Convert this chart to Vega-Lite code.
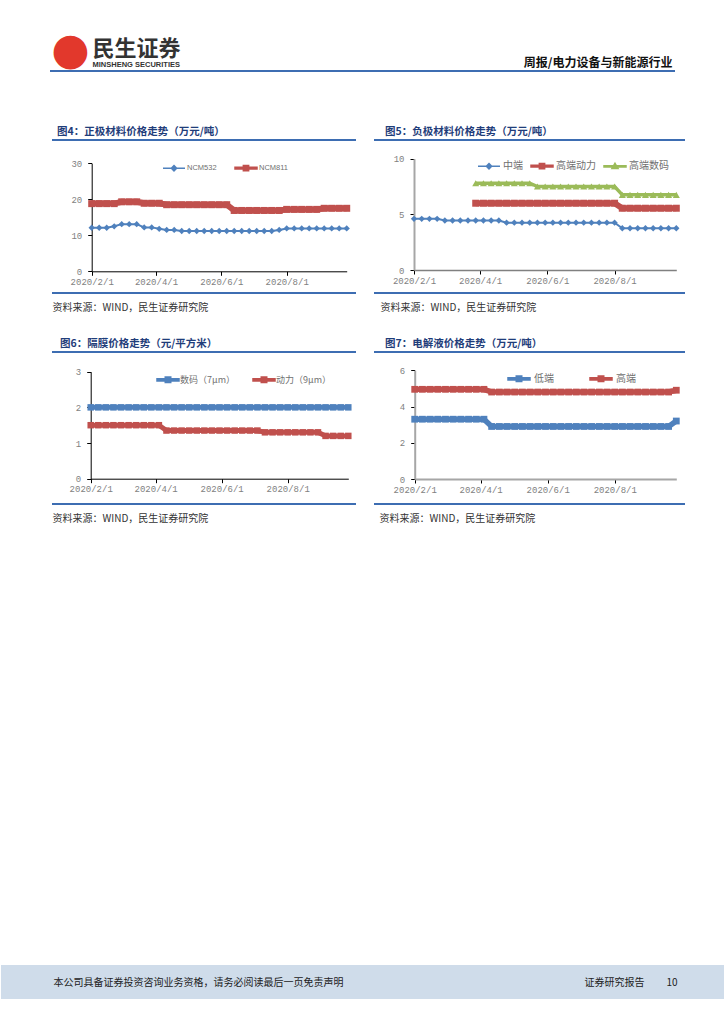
{
"$schema": "https://vega.github.io/schema/vega-lite/v6.json",
"padding": 0,
"background": "#ffffff",
"spacing": 0,
"resolve": {"scale": {"shape": "independent", "fill": "independent", "stroke": "independent"}, "legend": {"shape": "independent", "fill": "independent", "stroke": "independent"}},
"config": {
 "view": {"stroke": null},
 "axis": {"grid": false, "labelFont": "Liberation Mono", "labelFontSize": 9, "labelColor": "#7f7f7f", "tickSize": 4, "tickColor": "#000000", "domainColor": "#000000", "labelOverlap": false, "labelFlush": false, "titleFont": "Noto Sans CJK SC", "titleFontWeight": "normal", "titleFontSize": 10, "titleColor": "#333333"},
 "axisX": {"labelPadding": 2},
 "axisY": {"labelPadding": 6},
 "title": {"anchor": "start", "font": "Noto Sans CJK SC", "fontSize": 10.5, "fontWeight": "bold", "color": "#1f3d7a", "offset": 3},
 "legend": {"padding": 0}
},
"datasets": {
 "c4": [
  {"date":"2020/2/1","series":"NCM532","value":12.1},{"date":"2020/2/8","series":"NCM532","value":12.1},{"date":"2020/2/15","series":"NCM532","value":12.1},{"date":"2020/2/22","series":"NCM532","value":12.5},{"date":"2020/2/29","series":"NCM532","value":13.1},{"date":"2020/3/7","series":"NCM532","value":13.1},{"date":"2020/3/14","series":"NCM532","value":13.1},{"date":"2020/3/21","series":"NCM532","value":12.2},{"date":"2020/3/28","series":"NCM532","value":12.2},{"date":"2020/4/4","series":"NCM532","value":11.8},{"date":"2020/4/11","series":"NCM532","value":11.5},{"date":"2020/4/18","series":"NCM532","value":11.5},{"date":"2020/4/25","series":"NCM532","value":11.2},{"date":"2020/5/2","series":"NCM532","value":11.2},{"date":"2020/5/9","series":"NCM532","value":11.2},{"date":"2020/5/16","series":"NCM532","value":11.2},{"date":"2020/5/23","series":"NCM532","value":11.2},{"date":"2020/5/30","series":"NCM532","value":11.2},{"date":"2020/6/6","series":"NCM532","value":11.2},{"date":"2020/6/13","series":"NCM532","value":11.2},{"date":"2020/6/20","series":"NCM532","value":11.2},{"date":"2020/6/27","series":"NCM532","value":11.2},{"date":"2020/7/4","series":"NCM532","value":11.2},{"date":"2020/7/11","series":"NCM532","value":11.2},{"date":"2020/7/18","series":"NCM532","value":11.2},{"date":"2020/7/25","series":"NCM532","value":11.5},{"date":"2020/8/1","series":"NCM532","value":11.9},{"date":"2020/8/8","series":"NCM532","value":11.9},{"date":"2020/8/15","series":"NCM532","value":11.9},{"date":"2020/8/22","series":"NCM532","value":11.9},{"date":"2020/8/29","series":"NCM532","value":11.9},{"date":"2020/9/5","series":"NCM532","value":11.9},{"date":"2020/9/12","series":"NCM532","value":11.9},{"date":"2020/9/19","series":"NCM532","value":11.9},{"date":"2020/9/26","series":"NCM532","value":11.9},
  {"date":"2020/2/1","series":"NCM811","value":18.8},{"date":"2020/2/8","series":"NCM811","value":18.8},{"date":"2020/2/15","series":"NCM811","value":18.8},{"date":"2020/2/22","series":"NCM811","value":18.8},{"date":"2020/2/29","series":"NCM811","value":19.3},{"date":"2020/3/7","series":"NCM811","value":19.3},{"date":"2020/3/14","series":"NCM811","value":19.3},{"date":"2020/3/21","series":"NCM811","value":18.9},{"date":"2020/3/28","series":"NCM811","value":18.9},{"date":"2020/4/4","series":"NCM811","value":18.9},{"date":"2020/4/11","series":"NCM811","value":18.5},{"date":"2020/4/18","series":"NCM811","value":18.5},{"date":"2020/4/25","series":"NCM811","value":18.5},{"date":"2020/5/2","series":"NCM811","value":18.5},{"date":"2020/5/9","series":"NCM811","value":18.5},{"date":"2020/5/16","series":"NCM811","value":18.5},{"date":"2020/5/23","series":"NCM811","value":18.5},{"date":"2020/5/30","series":"NCM811","value":18.5},{"date":"2020/6/6","series":"NCM811","value":18.5},{"date":"2020/6/13","series":"NCM811","value":16.9},{"date":"2020/6/20","series":"NCM811","value":16.9},{"date":"2020/6/27","series":"NCM811","value":16.9},{"date":"2020/7/4","series":"NCM811","value":16.9},{"date":"2020/7/11","series":"NCM811","value":16.9},{"date":"2020/7/18","series":"NCM811","value":16.9},{"date":"2020/7/25","series":"NCM811","value":16.9},{"date":"2020/8/1","series":"NCM811","value":17.2},{"date":"2020/8/8","series":"NCM811","value":17.2},{"date":"2020/8/15","series":"NCM811","value":17.2},{"date":"2020/8/22","series":"NCM811","value":17.2},{"date":"2020/8/29","series":"NCM811","value":17.2},{"date":"2020/9/5","series":"NCM811","value":17.5},{"date":"2020/9/12","series":"NCM811","value":17.5},{"date":"2020/9/19","series":"NCM811","value":17.5},{"date":"2020/9/26","series":"NCM811","value":17.5}
 ],
 "c5": [
  {"date":"2020/2/1","series":"中端","value":4.6},{"date":"2020/2/8","series":"中端","value":4.6},{"date":"2020/2/15","series":"中端","value":4.6},{"date":"2020/2/22","series":"中端","value":4.6},{"date":"2020/2/29","series":"中端","value":4.45},{"date":"2020/3/7","series":"中端","value":4.45},{"date":"2020/3/14","series":"中端","value":4.45},{"date":"2020/3/21","series":"中端","value":4.45},{"date":"2020/3/28","series":"中端","value":4.45},{"date":"2020/4/4","series":"中端","value":4.45},{"date":"2020/4/11","series":"中端","value":4.45},{"date":"2020/4/18","series":"中端","value":4.45},{"date":"2020/4/25","series":"中端","value":4.25},{"date":"2020/5/2","series":"中端","value":4.25},{"date":"2020/5/9","series":"中端","value":4.25},{"date":"2020/5/16","series":"中端","value":4.25},{"date":"2020/5/23","series":"中端","value":4.25},{"date":"2020/5/30","series":"中端","value":4.25},{"date":"2020/6/6","series":"中端","value":4.25},{"date":"2020/6/13","series":"中端","value":4.25},{"date":"2020/6/20","series":"中端","value":4.25},{"date":"2020/6/27","series":"中端","value":4.25},{"date":"2020/7/4","series":"中端","value":4.25},{"date":"2020/7/11","series":"中端","value":4.25},{"date":"2020/7/18","series":"中端","value":4.25},{"date":"2020/7/25","series":"中端","value":4.25},{"date":"2020/8/1","series":"中端","value":4.25},{"date":"2020/8/8","series":"中端","value":3.75},{"date":"2020/8/15","series":"中端","value":3.75},{"date":"2020/8/22","series":"中端","value":3.75},{"date":"2020/8/29","series":"中端","value":3.75},{"date":"2020/9/5","series":"中端","value":3.75},{"date":"2020/9/12","series":"中端","value":3.75},{"date":"2020/9/19","series":"中端","value":3.75},{"date":"2020/9/26","series":"中端","value":3.75},
  {"date":"2020/3/28","series":"高端动力","value":6.0},{"date":"2020/4/4","series":"高端动力","value":6.0},{"date":"2020/4/11","series":"高端动力","value":6.0},{"date":"2020/4/18","series":"高端动力","value":6.0},{"date":"2020/4/25","series":"高端动力","value":6.0},{"date":"2020/5/2","series":"高端动力","value":6.0},{"date":"2020/5/9","series":"高端动力","value":6.0},{"date":"2020/5/16","series":"高端动力","value":6.0},{"date":"2020/5/23","series":"高端动力","value":6.0},{"date":"2020/5/30","series":"高端动力","value":6.0},{"date":"2020/6/6","series":"高端动力","value":6.0},{"date":"2020/6/13","series":"高端动力","value":6.0},{"date":"2020/6/20","series":"高端动力","value":6.0},{"date":"2020/6/27","series":"高端动力","value":6.0},{"date":"2020/7/4","series":"高端动力","value":6.0},{"date":"2020/7/11","series":"高端动力","value":6.0},{"date":"2020/7/18","series":"高端动力","value":6.0},{"date":"2020/7/25","series":"高端动力","value":6.0},{"date":"2020/8/1","series":"高端动力","value":6.0},{"date":"2020/8/8","series":"高端动力","value":5.55},{"date":"2020/8/15","series":"高端动力","value":5.55},{"date":"2020/8/22","series":"高端动力","value":5.55},{"date":"2020/8/29","series":"高端动力","value":5.55},{"date":"2020/9/5","series":"高端动力","value":5.55},{"date":"2020/9/12","series":"高端动力","value":5.55},{"date":"2020/9/19","series":"高端动力","value":5.55},{"date":"2020/9/26","series":"高端动力","value":5.55},
  {"date":"2020/3/28","series":"高端数码","value":7.8},{"date":"2020/4/4","series":"高端数码","value":7.8},{"date":"2020/4/11","series":"高端数码","value":7.8},{"date":"2020/4/18","series":"高端数码","value":7.8},{"date":"2020/4/25","series":"高端数码","value":7.8},{"date":"2020/5/2","series":"高端数码","value":7.8},{"date":"2020/5/9","series":"高端数码","value":7.8},{"date":"2020/5/16","series":"高端数码","value":7.8},{"date":"2020/5/23","series":"高端数码","value":7.5},{"date":"2020/5/30","series":"高端数码","value":7.5},{"date":"2020/6/6","series":"高端数码","value":7.5},{"date":"2020/6/13","series":"高端数码","value":7.5},{"date":"2020/6/20","series":"高端数码","value":7.5},{"date":"2020/6/27","series":"高端数码","value":7.5},{"date":"2020/7/4","series":"高端数码","value":7.5},{"date":"2020/7/11","series":"高端数码","value":7.5},{"date":"2020/7/18","series":"高端数码","value":7.5},{"date":"2020/7/25","series":"高端数码","value":7.5},{"date":"2020/8/1","series":"高端数码","value":7.5},{"date":"2020/8/8","series":"高端数码","value":6.75},{"date":"2020/8/15","series":"高端数码","value":6.75},{"date":"2020/8/22","series":"高端数码","value":6.75},{"date":"2020/8/29","series":"高端数码","value":6.75},{"date":"2020/9/5","series":"高端数码","value":6.75},{"date":"2020/9/12","series":"高端数码","value":6.75},{"date":"2020/9/19","series":"高端数码","value":6.75},{"date":"2020/9/26","series":"高端数码","value":6.75}
 ],
 "c6": [
  {"date":"2020/2/1","series":"数码（7μm）","value":2.0},{"date":"2020/2/8","series":"数码（7μm）","value":2.0},{"date":"2020/2/15","series":"数码（7μm）","value":2.0},{"date":"2020/2/22","series":"数码（7μm）","value":2.0},{"date":"2020/2/29","series":"数码（7μm）","value":2.0},{"date":"2020/3/7","series":"数码（7μm）","value":2.0},{"date":"2020/3/14","series":"数码（7μm）","value":2.0},{"date":"2020/3/21","series":"数码（7μm）","value":2.0},{"date":"2020/3/28","series":"数码（7μm）","value":2.0},{"date":"2020/4/4","series":"数码（7μm）","value":2.0},{"date":"2020/4/11","series":"数码（7μm）","value":2.0},{"date":"2020/4/18","series":"数码（7μm）","value":2.0},{"date":"2020/4/25","series":"数码（7μm）","value":2.0},{"date":"2020/5/2","series":"数码（7μm）","value":2.0},{"date":"2020/5/9","series":"数码（7μm）","value":2.0},{"date":"2020/5/16","series":"数码（7μm）","value":2.0},{"date":"2020/5/23","series":"数码（7μm）","value":2.0},{"date":"2020/5/30","series":"数码（7μm）","value":2.0},{"date":"2020/6/6","series":"数码（7μm）","value":2.0},{"date":"2020/6/13","series":"数码（7μm）","value":2.0},{"date":"2020/6/20","series":"数码（7μm）","value":2.0},{"date":"2020/6/27","series":"数码（7μm）","value":2.0},{"date":"2020/7/4","series":"数码（7μm）","value":2.0},{"date":"2020/7/11","series":"数码（7μm）","value":2.0},{"date":"2020/7/18","series":"数码（7μm）","value":2.0},{"date":"2020/7/25","series":"数码（7μm）","value":2.0},{"date":"2020/8/1","series":"数码（7μm）","value":2.0},{"date":"2020/8/8","series":"数码（7μm）","value":2.0},{"date":"2020/8/15","series":"数码（7μm）","value":2.0},{"date":"2020/8/22","series":"数码（7μm）","value":2.0},{"date":"2020/8/29","series":"数码（7μm）","value":2.0},{"date":"2020/9/5","series":"数码（7μm）","value":2.0},{"date":"2020/9/12","series":"数码（7μm）","value":2.0},{"date":"2020/9/19","series":"数码（7μm）","value":2.0},{"date":"2020/9/26","series":"数码（7μm）","value":2.0},
  {"date":"2020/2/1","series":"动力（9μm）","value":1.5},{"date":"2020/2/8","series":"动力（9μm）","value":1.5},{"date":"2020/2/15","series":"动力（9μm）","value":1.5},{"date":"2020/2/22","series":"动力（9μm）","value":1.5},{"date":"2020/2/29","series":"动力（9μm）","value":1.5},{"date":"2020/3/7","series":"动力（9μm）","value":1.5},{"date":"2020/3/14","series":"动力（9μm）","value":1.5},{"date":"2020/3/21","series":"动力（9μm）","value":1.5},{"date":"2020/3/28","series":"动力（9μm）","value":1.5},{"date":"2020/4/4","series":"动力（9μm）","value":1.5},{"date":"2020/4/11","series":"动力（9μm）","value":1.35},{"date":"2020/4/18","series":"动力（9μm）","value":1.35},{"date":"2020/4/25","series":"动力（9μm）","value":1.35},{"date":"2020/5/2","series":"动力（9μm）","value":1.35},{"date":"2020/5/9","series":"动力（9μm）","value":1.35},{"date":"2020/5/16","series":"动力（9μm）","value":1.35},{"date":"2020/5/23","series":"动力（9μm）","value":1.35},{"date":"2020/5/30","series":"动力（9μm）","value":1.35},{"date":"2020/6/6","series":"动力（9μm）","value":1.35},{"date":"2020/6/13","series":"动力（9μm）","value":1.35},{"date":"2020/6/20","series":"动力（9μm）","value":1.35},{"date":"2020/6/27","series":"动力（9μm）","value":1.35},{"date":"2020/7/4","series":"动力（9μm）","value":1.35},{"date":"2020/7/11","series":"动力（9μm）","value":1.3},{"date":"2020/7/18","series":"动力（9μm）","value":1.3},{"date":"2020/7/25","series":"动力（9μm）","value":1.3},{"date":"2020/8/1","series":"动力（9μm）","value":1.3},{"date":"2020/8/8","series":"动力（9μm）","value":1.3},{"date":"2020/8/15","series":"动力（9μm）","value":1.3},{"date":"2020/8/22","series":"动力（9μm）","value":1.3},{"date":"2020/8/29","series":"动力（9μm）","value":1.3},{"date":"2020/9/5","series":"动力（9μm）","value":1.2},{"date":"2020/9/12","series":"动力（9μm）","value":1.2},{"date":"2020/9/19","series":"动力（9μm）","value":1.2},{"date":"2020/9/26","series":"动力（9μm）","value":1.2}
 ],
 "c7": [
  {"date":"2020/2/1","series":"低端","value":3.3},{"date":"2020/2/8","series":"低端","value":3.3},{"date":"2020/2/15","series":"低端","value":3.3},{"date":"2020/2/22","series":"低端","value":3.3},{"date":"2020/2/29","series":"低端","value":3.3},{"date":"2020/3/7","series":"低端","value":3.3},{"date":"2020/3/14","series":"低端","value":3.3},{"date":"2020/3/21","series":"低端","value":3.3},{"date":"2020/3/28","series":"低端","value":3.3},{"date":"2020/4/4","series":"低端","value":3.3},{"date":"2020/4/11","series":"低端","value":2.9},{"date":"2020/4/18","series":"低端","value":2.9},{"date":"2020/4/25","series":"低端","value":2.9},{"date":"2020/5/2","series":"低端","value":2.9},{"date":"2020/5/9","series":"低端","value":2.9},{"date":"2020/5/16","series":"低端","value":2.9},{"date":"2020/5/23","series":"低端","value":2.9},{"date":"2020/5/30","series":"低端","value":2.9},{"date":"2020/6/6","series":"低端","value":2.9},{"date":"2020/6/13","series":"低端","value":2.9},{"date":"2020/6/20","series":"低端","value":2.9},{"date":"2020/6/27","series":"低端","value":2.9},{"date":"2020/7/4","series":"低端","value":2.9},{"date":"2020/7/11","series":"低端","value":2.9},{"date":"2020/7/18","series":"低端","value":2.9},{"date":"2020/7/25","series":"低端","value":2.9},{"date":"2020/8/1","series":"低端","value":2.9},{"date":"2020/8/8","series":"低端","value":2.9},{"date":"2020/8/15","series":"低端","value":2.9},{"date":"2020/8/22","series":"低端","value":2.9},{"date":"2020/8/29","series":"低端","value":2.9},{"date":"2020/9/5","series":"低端","value":2.9},{"date":"2020/9/12","series":"低端","value":2.9},{"date":"2020/9/19","series":"低端","value":2.9},{"date":"2020/9/26","series":"低端","value":3.2},
  {"date":"2020/2/1","series":"高端","value":4.95},{"date":"2020/2/8","series":"高端","value":4.95},{"date":"2020/2/15","series":"高端","value":4.95},{"date":"2020/2/22","series":"高端","value":4.95},{"date":"2020/2/29","series":"高端","value":4.95},{"date":"2020/3/7","series":"高端","value":4.95},{"date":"2020/3/14","series":"高端","value":4.95},{"date":"2020/3/21","series":"高端","value":4.95},{"date":"2020/3/28","series":"高端","value":4.95},{"date":"2020/4/4","series":"高端","value":4.95},{"date":"2020/4/11","series":"高端","value":4.8},{"date":"2020/4/18","series":"高端","value":4.8},{"date":"2020/4/25","series":"高端","value":4.8},{"date":"2020/5/2","series":"高端","value":4.8},{"date":"2020/5/9","series":"高端","value":4.8},{"date":"2020/5/16","series":"高端","value":4.8},{"date":"2020/5/23","series":"高端","value":4.8},{"date":"2020/5/30","series":"高端","value":4.8},{"date":"2020/6/6","series":"高端","value":4.8},{"date":"2020/6/13","series":"高端","value":4.8},{"date":"2020/6/20","series":"高端","value":4.8},{"date":"2020/6/27","series":"高端","value":4.8},{"date":"2020/7/4","series":"高端","value":4.8},{"date":"2020/7/11","series":"高端","value":4.8},{"date":"2020/7/18","series":"高端","value":4.8},{"date":"2020/7/25","series":"高端","value":4.8},{"date":"2020/8/1","series":"高端","value":4.8},{"date":"2020/8/8","series":"高端","value":4.8},{"date":"2020/8/15","series":"高端","value":4.8},{"date":"2020/8/22","series":"高端","value":4.8},{"date":"2020/8/29","series":"高端","value":4.8},{"date":"2020/9/5","series":"高端","value":4.8},{"date":"2020/9/12","series":"高端","value":4.8},{"date":"2020/9/19","series":"高端","value":4.8},{"date":"2020/9/26","series":"高端","value":4.9}
 ]
},
"vconcat": [
 {
  "width": 724, "height": 70,
  "view": {"stroke": "#3d6db2", "strokeWidth": 2, "strokeDash": [0, 844, 625, 119]},
  "layer": [
   {"data": {"values": []}, "mark": "point",
    "encoding": {
     "x": {"field": "hx", "type": "quantitative", "scale": {"domain": [0, 1]}, "axis": {"orient": "bottom", "domain": false, "ticks": false, "labels": false, "title": "周报/电力设备与新能源行业", "titleX": 671, "titleY": -5, "titleAlign": "right", "titleBaseline": "alphabetic", "titleFont": "Noto Sans CJK SC", "titleFontSize": 12, "titleFontWeight": "bold", "titleColor": "#111111"}},
     "y": {"field": "hy", "type": "quantitative", "scale": {"domain": [0, 1]}, "axis": {"orient": "left", "domain": false, "ticks": false, "labels": false, "title": "民生证券", "titleAngle": 0, "titleX": 91, "titleY": 54, "titleAlign": "left", "titleBaseline": "alphabetic", "titleFont": "Noto Sans CJK SC", "titleFontSize": 22, "titleFontWeight": "bold", "titleColor": "#333333"}}
    }},
   {"data": {"values": []}, "mark": "point",
    "encoding": {
     "x": {"field": "hx2", "type": "quantitative", "scale": {"domain": [0, 1]}, "axis": {"orient": "top", "domain": false, "ticks": false, "labels": false, "title": "MINSHENG SECURITIES", "titleX": 91, "titleY": 65, "titleAlign": "left", "titleBaseline": "alphabetic", "titleFont": "Liberation Sans", "titleFontSize": 7.5, "titleFontWeight": "bold", "titleColor": "#333333"}},
     "y": {"field": "hy2", "type": "quantitative", "scale": {"domain": [0, 1]}, "axis": {"orient": "right", "domain": false, "ticks": false, "labels": false, "title": "●", "titleAngle": 0, "titleX": -655, "titleY": 49, "titleAlign": "center", "titleBaseline": "middle", "titleFont": "DejaVu Sans", "titleFontSize": 44, "titleFontWeight": "normal", "titleColor": "#e2382c"}}
    }}
  ],
  "resolve": {"scale": {"x": "independent", "y": "independent"}}
 },
 {"width": 1, "height": 52, "data": {"values": []}, "mark": "point", "encoding": {}},
 {
  "spacing": 13,
  "resolve": {"scale": {"shape": "independent", "fill": "independent", "stroke": "independent"}, "legend": {"shape": "independent", "fill": "independent", "stroke": "independent"}},
  "hconcat": [
   {
    "width": 355, "height": 153,
    "title": {"text": "图4：正极材料价格走势（万元/吨）", "dx": 56},
    "view": {"stroke": "#3d6db2", "strokeWidth": 2, "strokeDash": [0, 51, 304, 153, 304, 204]},
    "data": {"name": "c4"},
    "encoding": {
     "x": {"field": "date", "type": "temporal",
      "scale": {"domain": [{"year": 2020, "month": 2, "date": 1}, {"year": 2020, "month": 9, "date": 26}], "range": [90.7, 345.7]},
      "axis": {"orient": "bottom", "offset": -21.7, "values": [{"year": 2020, "month": 2, "date": 1}, {"year": 2020, "month": 4, "date": 1}, {"year": 2020, "month": 6, "date": 1}, {"year": 2020, "month": 8, "date": 1}], "format": "%Y/%-m/%-d",
       "title": "资料来源：WIND，民生证券研究院", "titleX": 51, "titleY": 36.2, "titleAlign": "left", "titleBaseline": "middle"}},
     "y": {"field": "value", "type": "quantitative",
      "scale": {"domain": [0, 30], "range": [131.3, 23.3], "nice": false, "zero": false},
      "axis": {"orient": "left", "offset": -90.7, "values": [0, 10, 20, 30], "title": null}}
    },
    "layer": [
     {"transform": [{"filter": "datum.series === 'NCM532'"}], "mark": {"type": "line", "color": "#4f81bd", "strokeWidth": 2, "point": {"shape": "diamond", "filled": true, "size": 40, "color": "#4f81bd"}}},
     {"transform": [{"filter": "datum.series === 'NCM811'"}], "mark": {"type": "line", "color": "#c0504d", "strokeWidth": 6, "point": {"shape": "square", "filled": true, "size": 49, "color": "#c0504d"}}},
     {"data": {"values": []}, "mark": {"type": "point", "filled": true, "opacity": 1, "strokeWidth": 1.5},
      "encoding": {
       "shape": {"field": "series", "type": "nominal", "scale": {"domain": ["NCM532", "NCM811"], "range": ["M-1,0H1M0,-0.24L0.24,0L0,0.24L-0.24,0Z", "M-1,-0.08H1V0.08H-1ZM-0.24,-0.24H0.24V0.24H-0.24Z"]},
        "legend": {"orient": "none", "legendX": 161, "legendY": 16, "direction": "horizontal", "columns": 2, "title": null, "symbolSize": 484, "symbolStrokeWidth": 1.5, "labelFont": "Liberation Sans", "labelFontSize": 7.5, "labelColor": "#707070", "labelOffset": 1, "columnPadding": 15, "padding": 0, "labelBaseline": "middle"}},
       "fill": {"field": "series", "type": "nominal", "scale": {"domain": ["NCM532", "NCM811"], "range": ["#4f81bd", "#c0504d"]},
        "legend": {"orient": "none", "legendX": 161, "legendY": 16, "direction": "horizontal", "columns": 2, "title": null, "symbolSize": 484, "symbolStrokeWidth": 1.5, "labelFont": "Liberation Sans", "labelFontSize": 7.5, "labelColor": "#707070", "labelOffset": 1, "columnPadding": 15, "padding": 0, "labelBaseline": "middle"}},
       "stroke": {"field": "series", "type": "nominal", "scale": {"domain": ["NCM532", "NCM811"], "range": ["#4f81bd", "#c0504d"]},
        "legend": {"orient": "none", "legendX": 161, "legendY": 16, "direction": "horizontal", "columns": 2, "title": null, "symbolSize": 484, "symbolStrokeWidth": 1.5, "labelFont": "Liberation Sans", "labelFontSize": 7.5, "labelColor": "#707070", "labelOffset": 1, "columnPadding": 15, "padding": 0, "labelBaseline": "middle"}}
      }}
    ]
   },
   {
    "width": 311, "height": 153,
    "title": {"text": "图5：负极材料价格走势（万元/吨）", "dx": 11},
    "view": {"stroke": "#3d6db2", "strokeWidth": 2, "strokeDash": [311, 153]},
    "data": {"name": "c5"},
    "encoding": {
     "x": {"field": "date", "type": "temporal",
      "scale": {"domain": [{"year": 2020, "month": 2, "date": 1}, {"year": 2020, "month": 9, "date": 26}], "range": [40, 302.3]},
      "axis": {"orient": "bottom", "offset": -23, "values": [{"year": 2020, "month": 2, "date": 1}, {"year": 2020, "month": 4, "date": 1}, {"year": 2020, "month": 6, "date": 1}, {"year": 2020, "month": 8, "date": 1}], "format": "%Y/%-m/%-d", "domainColor": "#808080", "domainWidth": 1.5,
       "title": "资料来源：WIND，民生证券研究院", "titleX": 6, "titleY": 37.5, "titleAlign": "left", "titleBaseline": "middle"}},
     "y": {"field": "value", "type": "quantitative",
      "scale": {"domain": [0, 10], "range": [130, 18.7], "nice": false, "zero": false},
      "axis": {"orient": "left", "offset": -40, "values": [0, 5, 10], "title": null, "domainColor": "#a6a6a6", "domainWidth": 2}}
    },
    "layer": [
     {"transform": [{"filter": "datum.series === '中端'"}], "mark": {"type": "line", "color": "#4f81bd", "strokeWidth": 2, "point": {"shape": "diamond", "filled": true, "size": 40, "color": "#4f81bd"}}},
     {"transform": [{"filter": "datum.series === '高端动力'"}], "mark": {"type": "line", "color": "#c0504d", "strokeWidth": 6, "point": {"shape": "square", "filled": true, "size": 49, "color": "#c0504d"}}},
     {"transform": [{"filter": "datum.series === '高端数码'"}], "mark": {"type": "line", "color": "#9bbb59", "strokeWidth": 3.5, "point": {"shape": "triangle-up", "filled": true, "size": 49, "color": "#9bbb59"}}},
     {"data": {"values": []}, "mark": {"type": "point", "filled": true, "opacity": 1, "strokeWidth": 1.5},
      "encoding": {
       "shape": {"field": "series", "type": "nominal", "scale": {"domain": ["中端", "高端动力", "高端数码"], "range": ["M-1,0H1M0,-0.24L0.24,0L0,0.24L-0.24,0Z", "M-1,-0.08H1V0.08H-1ZM-0.24,-0.24H0.24V0.24H-0.24Z", "M-1,-0.05H1V0.05H-1ZM0,-0.28L0.28,0.2L-0.28,0.2Z"]},
        "legend": {"orient": "none", "legendX": 103, "legendY": 14, "direction": "horizontal", "columns": 3, "title": null, "symbolSize": 484, "symbolStrokeWidth": 1.5, "labelFont": "Noto Sans CJK SC", "labelFontSize": 10, "labelColor": "#707070", "labelOffset": 2, "columnPadding": 5, "padding": 0, "labelBaseline": "middle"}},
       "fill": {"field": "series", "type": "nominal", "scale": {"domain": ["中端", "高端动力", "高端数码"], "range": ["#4f81bd", "#c0504d", "#9bbb59"]},
        "legend": {"orient": "none", "legendX": 103, "legendY": 14, "direction": "horizontal", "columns": 3, "title": null, "symbolSize": 484, "symbolStrokeWidth": 1.5, "labelFont": "Noto Sans CJK SC", "labelFontSize": 10, "labelColor": "#707070", "labelOffset": 2, "columnPadding": 5, "padding": 0, "labelBaseline": "middle"}},
       "stroke": {"field": "series", "type": "nominal", "scale": {"domain": ["中端", "高端动力", "高端数码"], "range": ["#4f81bd", "#c0504d", "#9bbb59"]},
        "legend": {"orient": "none", "legendX": 103, "legendY": 14, "direction": "horizontal", "columns": 3, "title": null, "symbolSize": 484, "symbolStrokeWidth": 1.5, "labelFont": "Noto Sans CJK SC", "labelFontSize": 10, "labelColor": "#707070", "labelOffset": 2, "columnPadding": 5, "padding": 0, "labelBaseline": "middle"}}
      }}
    ]
   }
  ]
 },
 {"width": 1, "height": 23, "data": {"values": []}, "mark": "point", "encoding": {}},
 {
  "spacing": 13,
  "resolve": {"scale": {"shape": "independent", "fill": "independent", "stroke": "independent"}, "legend": {"shape": "independent", "fill": "independent", "stroke": "independent"}},
  "hconcat": [
   {
    "width": 355, "height": 152,
    "title": {"text": "图6：隔膜价格走势（元/平方米）", "dx": 59},
    "view": {"stroke": "#3d6db2", "strokeWidth": 2, "strokeDash": [0, 51, 304, 152, 304, 203]},
    "data": {"name": "c6"},
    "encoding": {
     "x": {"field": "date", "type": "temporal",
      "scale": {"domain": [{"year": 2020, "month": 2, "date": 1}, {"year": 2020, "month": 9, "date": 26}], "range": [89.7, 347.3]},
      "axis": {"orient": "bottom", "offset": -25.3, "values": [{"year": 2020, "month": 2, "date": 1}, {"year": 2020, "month": 4, "date": 1}, {"year": 2020, "month": 6, "date": 1}, {"year": 2020, "month": 8, "date": 1}], "format": "%Y/%-m/%-d",
       "title": "资料来源：WIND，民生证券研究院", "titleX": 51, "titleY": 39.8, "titleAlign": "left", "titleBaseline": "middle"}},
     "y": {"field": "value", "type": "quantitative",
      "scale": {"domain": [0, 3], "range": [126.7, 19.7], "nice": false, "zero": false},
      "axis": {"orient": "left", "offset": -89.7, "values": [0, 1, 2, 3], "title": null}}
    },
    "layer": [
     {"transform": [{"filter": "datum.series === '数码（7μm）'"}], "mark": {"type": "line", "color": "#4f81bd", "strokeWidth": 5, "point": {"shape": "square", "filled": true, "size": 42, "color": "#4f81bd"}}},
     {"transform": [{"filter": "datum.series === '动力（9μm）'"}], "mark": {"type": "line", "color": "#c0504d", "strokeWidth": 5, "point": {"shape": "square", "filled": true, "size": 42, "color": "#c0504d"}}},
     {"data": {"values": []}, "mark": {"type": "point", "filled": true, "opacity": 1, "strokeWidth": 1.5},
      "encoding": {
       "shape": {"field": "series", "type": "nominal", "scale": {"domain": ["数码（7μm）", "动力（9μm）"], "range": ["M-1,-0.1H1V0.1H-1ZM-0.25,-0.25H0.25V0.25H-0.25Z", "M-1,-0.1H1V0.1H-1ZM-0.25,-0.25H0.25V0.25H-0.25Z"]},
        "legend": {"orient": "none", "legendX": 155, "legendY": 15.7, "direction": "horizontal", "columns": 2, "title": null, "symbolSize": 484, "symbolStrokeWidth": 1.5, "labelFont": "Noto Sans CJK SC", "labelFontSize": 9, "labelColor": "#707070", "labelOffset": 0, "columnPadding": 15, "padding": 0, "labelBaseline": "middle"}},
       "fill": {"field": "series", "type": "nominal", "scale": {"domain": ["数码（7μm）", "动力（9μm）"], "range": ["#4f81bd", "#c0504d"]},
        "legend": {"orient": "none", "legendX": 155, "legendY": 15.7, "direction": "horizontal", "columns": 2, "title": null, "symbolSize": 484, "symbolStrokeWidth": 1.5, "labelFont": "Noto Sans CJK SC", "labelFontSize": 9, "labelColor": "#707070", "labelOffset": 0, "columnPadding": 15, "padding": 0, "labelBaseline": "middle"}},
       "stroke": {"field": "series", "type": "nominal", "scale": {"domain": ["数码（7μm）", "动力（9μm）"], "range": ["#4f81bd", "#c0504d"]},
        "legend": {"orient": "none", "legendX": 155, "legendY": 15.7, "direction": "horizontal", "columns": 2, "title": null, "symbolSize": 484, "symbolStrokeWidth": 1.5, "labelFont": "Noto Sans CJK SC", "labelFontSize": 9, "labelColor": "#707070", "labelOffset": 0, "columnPadding": 15, "padding": 0, "labelBaseline": "middle"}}
      }}
    ]
   },
   {
    "width": 311, "height": 152,
    "title": {"text": "图7：电解液价格走势（万元/吨）", "dx": 11},
    "view": {"stroke": "#3d6db2", "strokeWidth": 2, "strokeDash": [311, 152]},
    "data": {"name": "c7"},
    "encoding": {
     "x": {"field": "date", "type": "temporal",
      "scale": {"domain": [{"year": 2020, "month": 2, "date": 1}, {"year": 2020, "month": 9, "date": 26}], "range": [40.7, 302.3]},
      "axis": {"orient": "bottom", "offset": -25, "values": [{"year": 2020, "month": 2, "date": 1}, {"year": 2020, "month": 4, "date": 1}, {"year": 2020, "month": 6, "date": 1}, {"year": 2020, "month": 8, "date": 1}], "format": "%Y/%-m/%-d", "domainColor": "#a6a6a6", "domainWidth": 2,
       "title": "资料来源：WIND，民生证券研究院", "titleX": 5, "titleY": 39.5, "titleAlign": "left", "titleBaseline": "middle"}},
     "y": {"field": "value", "type": "quantitative",
      "scale": {"domain": [0, 6], "range": [127, 18.3], "nice": false, "zero": false},
      "axis": {"orient": "left", "offset": -40.7, "values": [0, 2, 4, 6], "title": null, "domainColor": "#a6a6a6", "domainWidth": 2}}
    },
    "layer": [
     {"transform": [{"filter": "datum.series === '低端'"}], "mark": {"type": "line", "color": "#4f81bd", "strokeWidth": 5.5, "point": {"shape": "square", "filled": true, "size": 46, "color": "#4f81bd"}}},
     {"transform": [{"filter": "datum.series === '高端'"}], "mark": {"type": "line", "color": "#c0504d", "strokeWidth": 5.5, "point": {"shape": "square", "filled": true, "size": 46, "color": "#c0504d"}}},
     {"data": {"values": []}, "mark": {"type": "point", "filled": true, "opacity": 1, "strokeWidth": 1.5},
      "encoding": {
       "shape": {"field": "series", "type": "nominal", "scale": {"domain": ["低端", "高端"], "range": ["M-1,-0.1H1V0.1H-1ZM-0.25,-0.25H0.25V0.25H-0.25Z", "M-1,-0.1H1V0.1H-1ZM-0.25,-0.25H0.25V0.25H-0.25Z"]},
        "legend": {"orient": "none", "legendX": 133, "legendY": 14.7, "direction": "horizontal", "columns": 2, "title": null, "symbolSize": 484, "symbolStrokeWidth": 1.5, "labelFont": "Noto Sans CJK SC", "labelFontSize": 10, "labelColor": "#707070", "labelOffset": 3, "columnPadding": 33, "padding": 0, "labelBaseline": "middle"}},
       "fill": {"field": "series", "type": "nominal", "scale": {"domain": ["低端", "高端"], "range": ["#4f81bd", "#c0504d"]},
        "legend": {"orient": "none", "legendX": 133, "legendY": 14.7, "direction": "horizontal", "columns": 2, "title": null, "symbolSize": 484, "symbolStrokeWidth": 1.5, "labelFont": "Noto Sans CJK SC", "labelFontSize": 10, "labelColor": "#707070", "labelOffset": 3, "columnPadding": 33, "padding": 0, "labelBaseline": "middle"}},
       "stroke": {"field": "series", "type": "nominal", "scale": {"domain": ["低端", "高端"], "range": ["#4f81bd", "#c0504d"]},
        "legend": {"orient": "none", "legendX": 133, "legendY": 14.7, "direction": "horizontal", "columns": 2, "title": null, "symbolSize": 484, "symbolStrokeWidth": 1.5, "labelFont": "Noto Sans CJK SC", "labelFontSize": 10, "labelColor": "#707070", "labelOffset": 3, "columnPadding": 33, "padding": 0, "labelBaseline": "middle"}}
      }}
    ]
   }
  ]
 },
 {"width": 1, "height": 440, "data": {"values": []}, "mark": "point", "encoding": {}},
 {
  "width": 724, "height": 34,
  "view": {"fill": "#cfdcea", "stroke": null},
  "layer": [
   {"data": {"values": []}, "mark": "point",
    "encoding": {
     "x": {"field": "fx", "type": "quantitative", "scale": {"domain": [0, 1]}, "axis": {"orient": "bottom", "domain": false, "ticks": false, "labels": false, "title": "本公司具备证券投资咨询业务资格，请务必阅读最后一页免责声明", "titleX": 52, "titleY": -17, "titleAlign": "left", "titleBaseline": "middle", "titleFont": "Noto Sans CJK SC", "titleFontSize": 10, "titleFontWeight": "normal", "titleColor": "#222222"}},
     "y": {"field": "fy", "type": "quantitative", "scale": {"domain": [0, 1]}, "axis": {"orient": "left", "domain": false, "ticks": false, "labels": false, "title": "证券研究报告", "titleAngle": 0, "titleX": 583, "titleY": 17, "titleAlign": "left", "titleBaseline": "middle", "titleFont": "Noto Sans CJK SC", "titleFontSize": 10, "titleFontWeight": "normal", "titleColor": "#222222"}}
    }},
   {"data": {"values": []}, "mark": "point",
    "encoding": {
     "x": {"field": "fx2", "type": "quantitative", "scale": {"domain": [0, 1]}, "axis": {"orient": "top", "domain": false, "ticks": false, "labels": false, "title": "10", "titleX": 665, "titleY": 17, "titleAlign": "left", "titleBaseline": "middle", "titleFont": "Noto Sans CJK SC", "titleFontSize": 10, "titleFontWeight": "normal", "titleColor": "#222222"}}
    }}
  ],
  "resolve": {"scale": {"x": "independent", "y": "independent"}}
 }
]
}
